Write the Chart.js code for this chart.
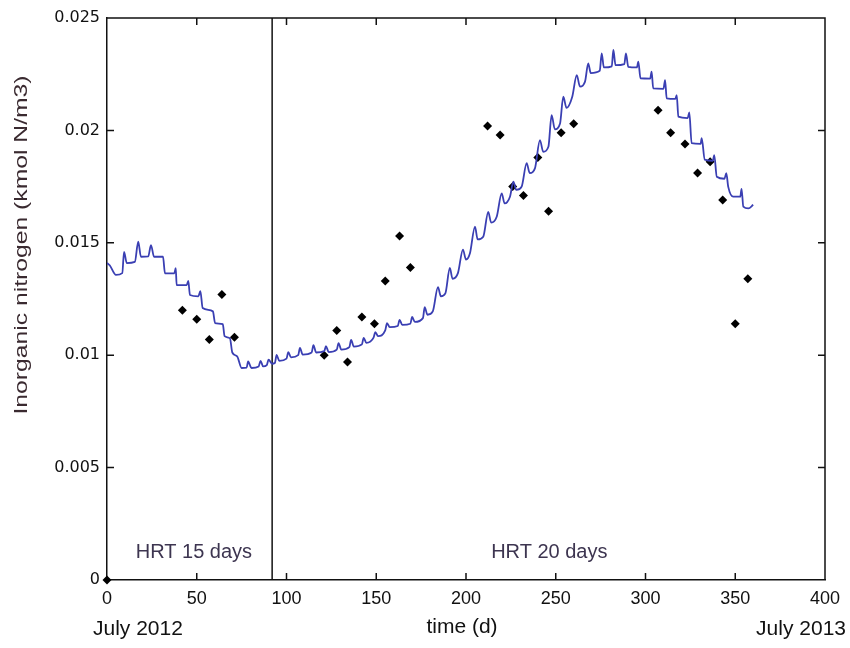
<!DOCTYPE html>
<html>
<head>
<meta charset="utf-8">
<script src="https://cdn.jsdelivr.net/npm/chart.js@4"></script>
<style>
  body { margin: 0; background: #fff; }
  #wrap { width: 850px; height: 648px; }
</style>
</head>
<body>
<div id="wrap"><canvas id="nChart" width="850" height="648"></canvas></div>
<script>
// model output (blue line), day vs inorganic N
const modelDays = [
  0, 1.5, 5, 8.5, 9.5, 11, 15.5, 17.4, 18.9, 23, 24.5, 26.2, 31.2, 32.3, 37.5, 38.3, 38.8,
  44.4, 45.3, 46.2, 50.9, 52, 53.3, 59, 60.2, 64.5, 65.5, 68.5, 69.8, 72.5, 75, 77.8, 78.6,
  80.5, 84.5, 85.5, 87, 89, 90, 92,
  93.5, 94.5, 96, 100, 101, 102.5, 106.5, 107.5, 109, 114, 115, 116.5, 121, 122, 123.5,
  128, 129, 130.5, 135, 136, 137.5, 142, 143, 144.5, 148.5, 149.5, 151, 155, 156, 157.5,
  162, 163, 164.5, 169, 170, 171.5, 176, 177, 178.5,
  181.5, 184.4, 186, 188.5, 191, 192.5, 195.5, 198.3, 200, 202.2, 205, 206.5, 209.6, 212.4,
  214, 217.1, 219.9, 221.5, 224.5, 226.4, 228, 231, 233.8, 235.5, 238.4, 241.2, 243, 245.9,
  247.7, 249.5, 252.4, 254.2, 256, 259.2, 261.7, 263.5, 266.3, 268.1,
  269.5, 274.5, 275.6, 276.8, 281.2, 282.1, 283.3, 288.2, 289.1, 290.4, 295.2, 296, 297.2,
  302.6, 303.4, 304.3, 310, 310.9, 311.8, 316.6, 317.4, 318.3, 323.5, 324.4, 325.7, 330.7,
  331.3, 333, 337.5, 338.3, 339.7, 344, 345, 346.1, 348.9, 352.8, 353.5, 354.5, 357.3, 360
];
const modelN = [
  0.01410, 0.01400, 0.01357, 0.01365, 0.01460, 0.01410, 0.01415, 0.01505, 0.01438, 0.01440, 0.01490, 0.01438, 0.01438, 0.01364, 0.01364, 0.01387, 0.01312,
  0.01312, 0.01330, 0.01268, 0.01262, 0.01285, 0.01210, 0.01195, 0.01143, 0.01138, 0.01085, 0.01075, 0.01012, 0.00995, 0.00943, 0.00945, 0.00972,
  0.00943, 0.00950, 0.00975, 0.00950, 0.00956, 0.00980, 0.00962,
  0.00965, 0.01001, 0.00975, 0.00985, 0.01014, 0.00990, 0.01000, 0.01032, 0.01003, 0.01012, 0.01045, 0.01012, 0.01018, 0.01040, 0.01014,
  0.01025, 0.01054, 0.01025, 0.01036, 0.01068, 0.01038, 0.01048, 0.01077, 0.01055, 0.01078, 0.01103, 0.01085, 0.01110, 0.01143, 0.01125,
  0.01130, 0.01157, 0.01135, 0.01140, 0.01170, 0.01148, 0.01165, 0.01214, 0.01180,
  0.01195, 0.01303, 0.01262, 0.01275, 0.01388, 0.01340, 0.01365, 0.01470, 0.01425, 0.01453, 0.01572, 0.01515, 0.01527, 0.01638,
  0.01590, 0.01616, 0.01720, 0.01675, 0.01705, 0.01772, 0.01735, 0.01750, 0.01854, 0.01810, 0.01831, 0.01957, 0.01905, 0.01927,
  0.02068, 0.02005, 0.02031, 0.02150, 0.02100, 0.02150, 0.02246, 0.02195, 0.02217, 0.02298,
  0.02255, 0.02265, 0.02343, 0.02280, 0.02285, 0.02358, 0.02290, 0.02295, 0.02343, 0.02283, 0.02280, 0.02306, 0.02232,
  0.02230, 0.02261, 0.02187, 0.02185, 0.02224, 0.02143, 0.02140, 0.02157, 0.02061, 0.02055, 0.02080, 0.01943, 0.01940,
  0.01965, 0.01870, 0.01865, 0.01890, 0.01794, 0.01785, 0.01810, 0.01749, 0.01705, 0.01705, 0.01740, 0.01661, 0.01653, 0.01669
];

// measured values (diamonds)
const obsDays = [0, 42, 50, 57, 64, 71, 121, 128, 134, 142, 149, 155, 163, 169,
  212, 219, 226, 232, 240, 246, 253, 260, 307, 314, 322, 329, 336, 343, 350, 357];
const obsN = [0, 0.0120, 0.0116, 0.0107, 0.0127, 0.0108, 0.0100, 0.0111, 0.0097, 0.0117, 0.0114, 0.0133, 0.0153, 0.0139,
  0.0202, 0.0198, 0.0175, 0.0171, 0.0188, 0.0164, 0.0199, 0.0203, 0.0209, 0.0199, 0.0194, 0.0181, 0.0186, 0.0169, 0.0114, 0.0134];

const hrtSwitchDay = 92;
const xTicks = [0, 50, 100, 150, 200, 250, 300, 350, 400];
const yTicks = [0, 0.005, 0.01, 0.015, 0.02, 0.025];
const yTickLabels = ['0', '0.005', '0.01', '0.015', '0.02', '0.025'];

const FONT = "'Liberation Sans', Arial, sans-serif";

// box, inward ticks and the extra texts
const framePlugin = {
  id: 'frame',
  afterDraw(chart) {
    const ctx = chart.ctx;
    const a = chart.chartArea;
    const xs = chart.scales.x, ys = chart.scales.y;
    const tl = 7;
    ctx.save();
    ctx.strokeStyle = '#111';
    ctx.lineWidth = 1.5;
    ctx.beginPath();
    ctx.moveTo(a.left, a.top); ctx.lineTo(a.right, a.top); ctx.lineTo(a.right, a.bottom);
    xTicks.forEach(v => {
      if (v === 0 || v === 400) return;
      const px = xs.getPixelForValue(v);
      ctx.moveTo(px, a.bottom); ctx.lineTo(px, a.bottom - tl);
      ctx.moveTo(px, a.top); ctx.lineTo(px, a.top + tl);
    });
    yTicks.forEach(v => {
      if (v === 0 || v === 0.025) return;
      const py = ys.getPixelForValue(v);
      ctx.moveTo(a.left, py); ctx.lineTo(a.left + tl, py);
      ctx.moveTo(a.right, py); ctx.lineTo(a.right - tl, py);
    });
    ctx.stroke();

    // period labels
    ctx.fillStyle = '#3d3550';
    ctx.font = '20px ' + FONT;
    ctx.textAlign = 'left';
    ctx.textBaseline = 'alphabetic';
    ctx.fillText('HRT 15 days', xs.getPixelForValue(16), ys.getPixelForValue(0.001));
    ctx.fillText('HRT 20 days', xs.getPixelForValue(214), ys.getPixelForValue(0.001));

    // dates and x title
    ctx.fillStyle = '#111';
    ctx.font = '21px ' + FONT;
    ctx.fillText('July 2012', 93, 635);
    ctx.textAlign = 'right';
    ctx.fillText('July 2013', 846, 635);
    ctx.textAlign = 'center';
    ctx.fillText('time (d)', 462, 633);

    // y title
    ctx.translate(22, 245);
    ctx.rotate(-Math.PI / 2);
    ctx.scale(1.3, 1);
    ctx.fillStyle = '#3a2a30';
    ctx.font = '19px ' + FONT;
    ctx.textBaseline = 'middle';
    ctx.fillText('Inorganic nitrogen (kmol N/m3)', 0, 0);
    ctx.restore();
  }
};

const ctx = document.getElementById('nChart').getContext('2d');
new Chart(ctx, {
  type: 'scatter',
  data: {
    datasets: [
      {
        type: 'line',
        data: modelDays.map((d, i) => ({ x: d, y: modelN[i] })),
        borderColor: '#3a3fb3',
        borderWidth: 1.8,
        pointRadius: 0,
        cubicInterpolationMode: 'monotone',
        fill: false
      },
      {
        data: obsDays.map((d, i) => ({ x: d, y: obsN[i] })),
        pointStyle: 'rectRot',
        pointRadius: 4.5,
        backgroundColor: '#000',
        borderColor: '#000',
        borderWidth: 0,
        clip: false
      },
      {
        type: 'line',
        data: [{ x: hrtSwitchDay, y: 0 }, { x: hrtSwitchDay, y: 0.025 }],
        borderColor: '#111',
        borderWidth: 1.5,
        pointRadius: 0
      }
    ]
  },
  options: {
    responsive: false,
    animation: false,
    events: [],
    layout: { padding: { top: 18, right: 25, left: 0, bottom: 0 } },
    plugins: { legend: { display: false }, tooltip: { enabled: false } },
    scales: {
      x: {
        type: 'linear',
        min: 0, max: 400,
        afterBuildTicks: s => { s.ticks = xTicks.map(v => ({ value: v })); },
        afterFit: s => { s.height = 68; },
        grid: { drawOnChartArea: false, drawTicks: false },
        border: { display: true, color: '#111', width: 1.5 },
        ticks: { color: '#111', font: { family: FONT, size: 18 }, padding: 8, maxRotation: 0 }
      },
      y: {
        min: 0, max: 0.025,
        afterBuildTicks: s => { s.ticks = yTicks.map(v => ({ value: v })); },
        afterFit: s => { s.width = 107; },
        grid: { drawOnChartArea: false, drawTicks: false },
        border: { display: true, color: '#111', width: 1.5 },
        ticks: {
          color: '#111',
          font: { family: "'DejaVu Sans', sans-serif", size: 16 },
          padding: 7,
          callback: (v, i) => yTickLabels[i]
        }
      }
    }
  },
  plugins: [framePlugin]
});
</script>
</body>
</html>
